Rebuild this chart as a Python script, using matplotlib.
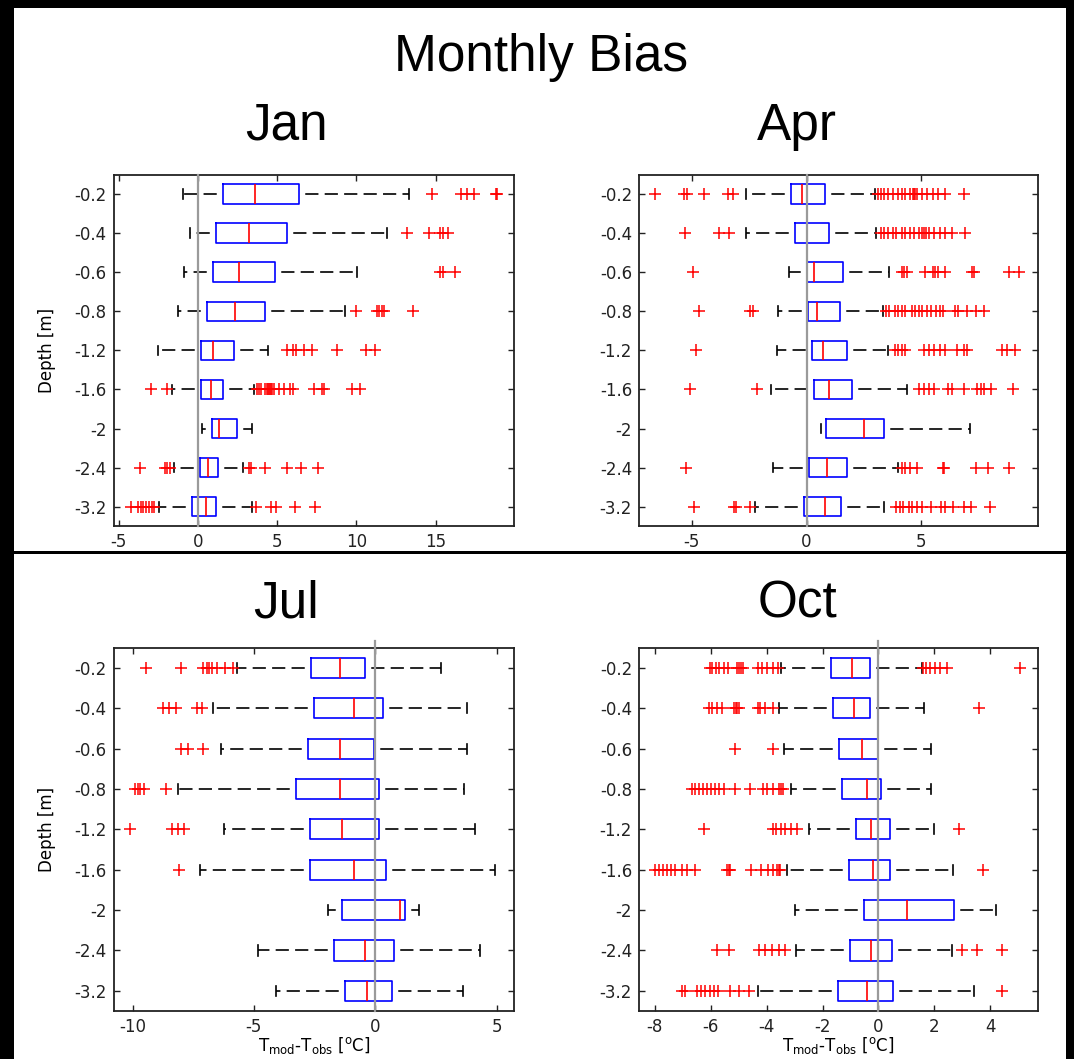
import matplotlib
matplotlib.use("Agg")
import matplotlib.pyplot as plt
from matplotlib.patches import Rectangle

plt.rcParams['font.family'] = ['DejaVu Sans']
plt.rcParams['axes.unicode_minus'] = False
plt.rcParams['mathtext.default'] = 'regular'
plt.rcParams['lines.scale_dashes'] = False

depth_labels = ['-0.2', '-0.4', '-0.6', '-0.8', '-1.2', '-1.6', '-2', '-2.4', '-3.2']

# ---------------- January ----------------
jan_whislo = [-0.95, -0.52, -0.87, -1.28, -2.51, -1.67, 0.24, -1.50, -2.47]
jan_q1 = [1.55, 1.13, 0.93, 0.56, 0.17, 0.20, 0.87, 0.11, -0.41]
jan_med = [3.60, 3.25, 2.58, 2.32, 0.93, 0.80, 1.34, 0.65, 0.50]
jan_q3 = [6.40, 5.59, 4.89, 4.22, 2.30, 1.58, 2.49, 1.26, 1.15]
jan_whishi = [13.35, 11.91, 10.07, 9.27, 4.40, 3.53, 3.38, 2.84, 3.42]
jan_fliers = [
    [14.8, 16.6, 17.0, 17.4, 18.8, 18.9],
    [13.2, 14.6, 15.3, 15.5, 15.8],
    [15.3, 15.45, 16.25],
    [10.0, 11.3, 11.45, 11.6, 11.75, 13.55],
    [5.6, 6.0, 6.2, 6.7, 7.2, 8.75, 10.6, 11.2],
    [-3.0, -1.95, 3.7, 3.85, 4.0, 4.2, 4.35, 4.45, 4.5, 4.55, 4.6, 4.7, 4.8,
     5.1, 5.4, 5.8, 6.0, 7.3, 7.8, 7.95, 9.75, 10.25],
    [],
    [-3.68, -2.1, -1.93, -1.78, 3.25, 3.35, 4.22, 5.63, 6.52, 7.58],
    [-4.22, -3.77, -3.6, -3.45, -3.3, -3.1, -2.92, -2.75, 3.64, 4.61, 4.94,
     6.13, 7.36],
]

# ---------------- April ----------------
apr_whislo = [-2.64, -2.64, -0.76, -1.23, -1.29, -1.54, 0.64, -1.48, -2.26]
apr_q1 = [-0.69, -0.48, 0.03, 0.06, 0.24, 0.31, 0.85, 0.12, -0.09]
apr_med = [-0.21, 0.0, 0.31, 0.46, 0.72, 0.99, 2.52, 0.91, 0.79]
apr_q3 = [0.79, 0.99, 1.59, 1.44, 1.74, 1.98, 3.39, 1.74, 1.51]
apr_whishi = [2.97, 3.01, 3.58, 3.31, 3.54, 4.36, 7.11, 3.99, 3.39]
apr_fliers = [
    [-6.58, -5.35, -5.2, -4.44, -3.43, -3.21, 3.09, 3.24, 3.39, 3.54, 3.76,
     3.99, 4.14, 4.29, 4.51, 4.62, 4.68, 4.74, 4.81, 5.04, 5.26, 5.49, 5.71,
     6.01, 6.84],
    [-5.31, -3.81, -3.36, 3.24, 3.39, 3.54, 3.76, 3.91, 4.14, 4.29, 4.51,
     4.66, 4.89, 5.04, 5.12, 5.19, 5.34, 5.56, 5.79, 6.01, 6.31, 6.88],
    [-4.96, 4.14, 4.24, 4.36, 5.16, 5.49, 5.59, 5.71, 6.01, 7.21, 7.29, 8.79,
     9.24],
    [-4.68, -2.46, -2.34, 3.46, 3.61, 3.84, 3.99, 4.14, 4.29, 4.59, 4.74,
     4.89, 5.04, 5.26, 5.41, 5.64, 5.79, 5.94, 6.46, 6.61, 6.99, 7.36, 7.74],
    [-4.83, 3.84, 3.99, 4.14, 4.29, 5.11, 5.34, 5.56, 5.79, 6.01, 6.54, 6.84,
     6.99, 8.49, 8.71, 9.09],
    [-5.08, -2.16, 4.89, 5.11, 5.34, 5.56, 6.16, 6.31, 6.84, 7.44, 7.59, 7.74,
     8.04, 8.98],
    [],
    [-5.23, 4.14, 4.29, 4.51, 4.81, 5.94, 5.98, 7.36, 7.89, 8.79],
    [-4.9, -3.16, -3.06, -2.46, 3.91, 4.06, 4.21, 4.44, 4.59, 4.81, 5.04,
     5.41, 5.86, 6.01, 6.39, 6.84, 7.14, 7.99],
]

# ---------------- July ----------------
jul_whislo = [-5.70, -6.67, -6.34, -8.13, -6.22, -7.24, -1.94, -4.85, -4.09]
jul_q1 = [-2.63, -2.53, -2.77, -3.26, -2.70, -2.70, -1.38, -1.70, -1.25]
jul_med = [-1.45, -0.87, -1.45, -1.45, -1.38, -0.87, 1.02, -0.43, -0.35]
jul_q3 = [-0.41, 0.33, -0.04, 0.14, 0.14, 0.45, 1.23, 0.78, 0.71]
jul_whishi = [2.70, 3.79, 3.79, 3.66, 4.12, 4.92, 1.80, 4.30, 3.62]
jul_fliers = [
    [-9.44, -7.99, -7.1, -6.95, -6.84, -6.74, -6.5, -6.17, -5.85],
    [-8.73, -8.49, -8.2, -7.35, -7.12],
    [-7.99, -7.73, -7.1],
    [-9.9, -9.79, -9.68, -9.51, -8.63],
    [-10.1, -8.37, -8.13, -7.88],
    [-8.09],
    [],
    [],
    [],
]

# ---------------- October ----------------
oct_whislo = [-3.47, -3.55, -3.39, -3.12, -2.50, -3.26, -2.99, -2.96, -4.31]
oct_q1 = [-1.69, -1.63, -1.42, -1.29, -0.80, -1.07, -0.53, -1.02, -1.45]
oct_med = [-0.96, -0.86, -0.59, -0.41, -0.25, -0.18, 1.01, -0.25, -0.41]
oct_q3 = [-0.31, -0.31, 0.0, 0.09, 0.41, 0.41, 2.72, 0.47, 0.53]
oct_whishi = [1.56, 1.63, 1.88, 1.88, 2.00, 2.67, 4.19, 2.65, 3.41]
oct_fliers = [
    [-6.04, -5.94, -5.81, -5.69, -5.54, -5.38, -5.05, -4.99, -4.93, -4.83,
     -4.31, -4.15, -3.98, -3.78, -3.61, 1.6, 1.72, 1.85, 2.03, 2.22, 2.46,
     5.08],
    [-6.06, -5.94, -5.79, -5.61, -5.17, -5.11, -5.05, -4.99, -4.31, -4.25,
     -4.07, -3.78, 3.6],
    [-5.14, -3.76],
    [-6.69, -6.57, -6.43, -6.28, -6.14, -6.0, -5.85, -5.69, -5.54, -5.14,
     -4.58, -4.13, -3.98, -3.76, -3.57, -3.49, -3.41],
    [-6.26, -3.76, -3.66, -3.49, -3.33, -3.14, -2.9, 2.9],
    [-8.01, -7.86, -7.72, -7.58, -7.42, -7.27, -7.02, -6.84, -6.57, -5.42,
     -5.36, -5.3, -4.56, -4.19, -3.94, -3.76, -3.63, -3.57, -3.51, 3.76],
    [],
    [-5.79, -5.36, -4.27, -4.07, -3.82, -3.57, -3.33, 2.99, 3.54, 4.44],
    [-7.02, -6.94, -6.49, -6.34, -6.2, -6.04, -5.88, -5.75, -5.3, -4.99,
     -4.64, 4.44],
]

W, H = 1074, 1059
fig = plt.figure(figsize=(W / 100, H / 100), dpi=100, facecolor='black')

# white panels inside the black frame
fig.add_artist(Rectangle((14 / W, 1 - 551 / H), (1066 - 14) / W, (551 - 8) / H,
                         transform=fig.transFigure, facecolor='white',
                         edgecolor='none', zorder=-10))
fig.add_artist(Rectangle((14 / W, 0), (1066 - 14) / W, (1059 - 554) / H,
                         transform=fig.transFigure, facecolor='white',
                         edgecolor='none', zorder=-10))

fig.text(541 / W, 1 - 70.5 / H, 'Monthly Bias', ha='center', va='baseline',
         fontsize=37, family='Liberation Sans')


def px_rect(left, top, right, bottom):
    return [left / W, 1 - bottom / H, (right - left) / W, (bottom - top) / H]


panels = [
    ('Jan', px_rect(113.6, 174.6, 513.8, 526.2), (286, 140),
     jan_whislo, jan_q1, jan_med, jan_q3, jan_whishi, jan_fliers,
     (-5.33, 19.94), [-5, 0, 5, 10, 15], False),
    ('Apr', px_rect(639, 174.6, 1037.7, 526.2), (797, 140),
     apr_whislo, apr_q1, apr_med, apr_q3, apr_whishi, apr_fliers,
     (-7.29, 10.06), [-5, 0, 5], False),
    ('Jul', px_rect(113.6, 647.8, 513.8, 1011), (286, 617),
     jul_whislo, jul_q1, jul_med, jul_q3, jul_whishi, jul_fliers,
     (-10.78, 5.71), [-10, -5, 0, 5], True),
    ('Oct', px_rect(639, 647.8, 1037.7, 1011), (797, 617),
     oct_whislo, oct_q1, oct_med, oct_q3, oct_whishi, oct_fliers,
     (-8.57, 5.70), [-8, -6, -4, -2, 0, 2, 4], True),
]

positions = list(range(1, len(depth_labels) + 1))

for (name, rect, tpos, wlo, q1, med, q3, whi, fl, xlim, xticks,
     bottom_row) in panels:
    ax = fig.add_axes(rect)
    fig.text(tpos[0] / W, 1 - tpos[1] / H, name, ha='center', va='baseline',
             fontsize=37, family='Liberation Sans')
    stats = []
    for i in range(len(depth_labels)):
        stats.append(dict(whislo=wlo[i], q1=q1[i], med=med[i], q3=q3[i],
                          whishi=whi[i], fliers=fl[i], label=depth_labels[i]))
    ax.bxp(stats, positions=positions, widths=0.5, capwidths=0.25,
           orientation='horizontal', manage_ticks=False,
           boxprops=dict(color='#0000ff', linewidth=1.2),
           medianprops=dict(color='#ff0000', linewidth=1.2),
           whiskerprops=dict(color='black', linewidth=1.2,
                             linestyle=(9.5, (9.5, 4.5))),
           capprops=dict(color='black', linewidth=1.2),
           flierprops=dict(marker='+', markeredgecolor='#ff0000',
                           markersize=8.5, markeredgewidth=1.1,
                           linestyle='none'))
    ax.axvline(0, color='#9a9a9a', linewidth=1.6, zorder=5,
               ymax=1.02 if bottom_row else 1.0, clip_on=False)
    ax.set_xlim(*xlim)
    ax.set_ylim(9.5, 0.5)
    ax.set_yticks(positions)
    ax.set_yticklabels(depth_labels)
    ax.set_xticks(xticks)
    ax.set_xticklabels([str(t) for t in xticks])
    ax.tick_params(direction='in', top=True, right=True, length=4,
                   width=1, labelsize=12, colors='#222222', pad=5)
    for sp in ax.spines.values():
        sp.set_color('#222222')
        sp.set_linewidth(1.3)
    if name in ('Jan', 'Jul'):
        ax.set_ylabel('Depth [m]', fontsize=12)
        ax.yaxis.set_label_coords(-0.145, 0.5)
    if bottom_row:
        ax.set_xlabel(r'T$_{mod}$-T$_{obs}$ [$^{o}$C]', fontsize=12)
        ax.xaxis.set_label_coords(0.5, -0.066)

fig.savefig('out.png', dpi=100, facecolor='black')
